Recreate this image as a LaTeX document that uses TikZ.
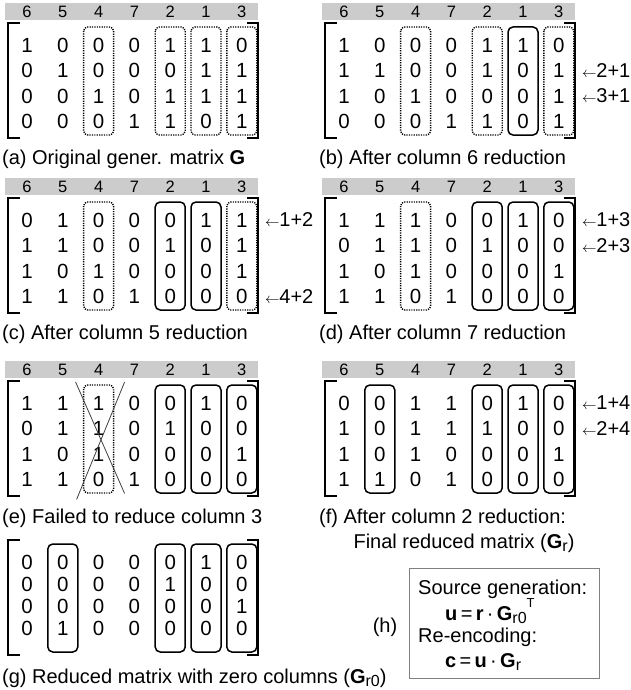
\documentclass[tikz,border=0pt]{standalone}
\usepackage{fontspec}
\setmainfont{Liberation Sans}
\usetikzlibrary{calc}
\newcommand\mysub[1]{\raisebox{-0.18em}{\fontsize{16}{16}\selectfont #1}}
\newcommand\mysup[1]{\raisebox{0.62em}{\fontsize{13}{13}\selectfont #1}}
\tikzset{
 digit/.style={inner sep=0pt, font=\fontsize{20.5}{20.5}\selectfont},
 hdigit/.style={inner sep=0pt, font=\fontsize{16.5}{16.5}\selectfont},
 hbar/.style={fill=black!20, draw=none},
 bracket/.style={line width=2pt},
 solidbox/.style={line width=1.5pt, rounded corners=5pt},
 dotbox/.style={line width=1.4pt, dash pattern=on 1.2pt off 1.2pt, rounded corners=4pt},
 caption/.style={inner sep=0pt, anchor=base west, font=\fontsize{20}{20}\selectfont},
 note/.style={inner sep=0pt, anchor=west, font=\fontsize{20}{20}\selectfont},
 crossline/.style={line width=0.8pt, draw=black!75},
 hframe/.style={draw=black!50, line width=1pt, inner sep=0pt},
}
% #1 name, #2 x offset, #3 y offset, #4 header (1/0), #5 row spacing, #6 rows
\newcommand\matpanel[6]{%
 \begin{scope}[shift={(#2,#3)}]
  \ifnum#4=1
   \fill[hbar] (5,3) rectangle (258,20);
   \foreach \h [count=\c] in {6,5,4,7,2,1,3}{\node[hdigit] (#1-h-\c) at ({27+35.8*(\c-1)},11.5) {\h};}
  \fi
  \foreach \rw [count=\r] in {#6}{
   \foreach \v [count=\c] in \rw {\node[digit] (#1-\r-\c) at ({27+35.8*(\c-1)},{45+#5*(\r-1)}) {\v};}
  }
  \foreach \c in {1,...,7}{
   \coordinate (#1-t-\c) at ({27+35.8*(\c-1)},27);
   \coordinate (#1-b-\c) at ({27+35.8*(\c-1)},135);
  }
  \draw[bracket] (20,23) -- (8,23) -- (8,138) -- (20,138);
  \draw[bracket] (247,23) -- (258,23) -- (258,138) -- (247,138);
 \end{scope}}
% #1 style, #2 panel, #3 column
\newcommand\colbox[3]{\draw[#1] ($(#2-t-#3)+(-15,0)$) rectangle ($(#2-b-#3)+(15,0)$);}
\begin{document}
\begin{tikzpicture}[x=1pt,y=-1pt]
\useasboundingbox (0,0) rectangle (630,690);
% (a)
\matpanel{a}{0}{0}{1}{25.5}{{1,0,0,0,1,1,0},{0,1,0,0,0,1,1},{0,0,1,0,1,1,1},{0,0,0,1,1,0,1}}
\colbox{dotbox}{a}{3}\colbox{dotbox}{a}{5}\colbox{dotbox}{a}{6}\colbox{dotbox}{a}{7}
\node[caption] (cap-a) at (2,164) {(a) Original gener. matrix \textbf{G}};
% (b)
\matpanel{b}{317}{0}{1}{25.5}{{1,0,0,0,1,1,0},{1,1,0,0,1,0,1},{1,0,1,0,0,0,1},{0,0,0,1,1,0,1}}
\colbox{dotbox}{b}{3}\colbox{dotbox}{b}{5}\colbox{solidbox}{b}{6}\colbox{dotbox}{b}{7}
\node[note] (b-n2) at ($(b-2-7)+(23,0)$) {{\fontsize{14}{14}\selectfont$\leftarrow$}2+1};
\node[note] (b-n3) at ($(b-3-7)+(23,0)$) {{\fontsize{14}{14}\selectfont$\leftarrow$}3+1};
\node[caption] (cap-b) at (319,164) {(b) After column 6 reduction};
% (c)
\matpanel{c}{0}{175}{1}{25.5}{{0,1,0,0,0,1,1},{1,1,0,0,1,0,1},{1,0,1,0,0,0,1},{1,1,0,1,0,0,0}}
\colbox{dotbox}{c}{3}\colbox{solidbox}{c}{5}\colbox{solidbox}{c}{6}\colbox{dotbox}{c}{7}
\node[note] (c-n1) at ($(c-1-7)+(23,0)$) {{\fontsize{14}{14}\selectfont$\leftarrow$}1+2};
\node[note] (c-n4) at ($(c-4-7)+(23,0)$) {{\fontsize{14}{14}\selectfont$\leftarrow$}4+2};
\node[caption] (cap-c) at (2,339) {(c) After column 5 reduction};
% (d)
\matpanel{d}{317}{175}{1}{25.5}{{1,1,1,0,0,1,0},{0,1,1,0,1,0,0},{1,0,1,0,0,0,1},{1,1,0,1,0,0,0}}
\colbox{dotbox}{d}{3}\colbox{solidbox}{d}{5}\colbox{solidbox}{d}{6}\colbox{solidbox}{d}{7}
\node[note] (d-n1) at ($(d-1-7)+(23,0)$) {{\fontsize{14}{14}\selectfont$\leftarrow$}1+3};
\node[note] (d-n2) at ($(d-2-7)+(23,0)$) {{\fontsize{14}{14}\selectfont$\leftarrow$}2+3};
\node[caption] (cap-d) at (319,339) {(d) After column 7 reduction};
% (e)
\matpanel{e}{0}{358}{1}{25.5}{{1,1,1,0,0,1,0},{0,1,1,0,1,0,0},{1,0,1,0,0,0,1},{1,1,0,1,0,0,0}}
\colbox{dotbox}{e}{3}\colbox{solidbox}{e}{5}\colbox{solidbox}{e}{6}\colbox{solidbox}{e}{7}
\draw[crossline] ($(e-1-3)+(-23,-21)$) -- ($(e-4-3)+(26,14)$);
\draw[crossline] ($(e-1-3)+(26,-21)$) -- ($(e-4-3)+(-22,20)$);
\node[caption] (cap-e) at (2,523) {(e) Failed to reduce column 3};
% (f)
\matpanel{f}{317}{358}{1}{25.5}{{0,0,1,1,0,1,0},{1,0,1,1,1,0,0},{1,0,1,0,0,0,1},{1,1,0,1,0,0,0}}
\colbox{solidbox}{f}{2}\colbox{solidbox}{f}{5}\colbox{solidbox}{f}{6}\colbox{solidbox}{f}{7}
\node[note] (f-n1) at ($(f-1-7)+(23,0)$) {{\fontsize{14}{14}\selectfont$\leftarrow$}1+4};
\node[note] (f-n2) at ($(f-2-7)+(23,0)$) {{\fontsize{14}{14}\selectfont$\leftarrow$}2+4};
\node[caption] (cap-f) at (319,523) {(f) After column 2 reduction:};
\node[caption, anchor=base] (cap-f2) at (464,548) {Final reduced matrix (\textbf{G}\mysub{r})};
% (g)
\matpanel{g}{0}{517}{0}{22}{{0,0,0,0,0,1,0},{0,0,0,0,1,0,0},{0,0,0,0,0,0,1},{0,1,0,0,0,0,0}}
\colbox{solidbox}{g}{2}\colbox{solidbox}{g}{5}\colbox{solidbox}{g}{6}\colbox{solidbox}{g}{7}
\node[caption] (cap-g) at (2,683) {(g) Reduced matrix with zero columns (\textbf{G}\mysub{r0})};
% (h)
\node[caption, anchor=base] (cap-h) at (385,632) {(h)};
\node[hframe, minimum width=190pt, minimum height=110pt] (hbox) at (504,623) {};
\node[caption] (h1) at (418,594) {Source generation:};
\node[caption] (h2) at (445,620) {\textbf{u}\,=\,\textbf{r}\,·\,\textbf{G}\mysub{r0}\mysup{T}};
\node[caption] (h3) at (418,642) {Re-encoding:};
\node[caption] (h4) at (445,667) {\textbf{c}\,=\,\textbf{u}\,·\,\textbf{G}\mysub{r}};
\end{tikzpicture}
\end{document}
